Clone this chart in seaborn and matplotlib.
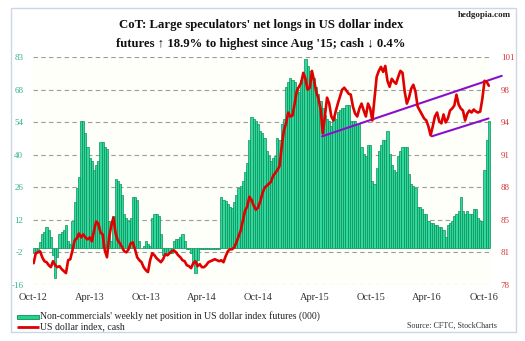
import numpy as np
import pandas as pd
import matplotlib
matplotlib.use("Agg")
import matplotlib.pyplot as plt
import matplotlib.dates as mdates
from matplotlib.lines import Line2D
from matplotlib.patches import Rectangle
from matplotlib.ticker import FixedLocator, FixedFormatter
import seaborn as sns

# ---------------- data ----------------
title_line1 = "CoT: Large speculators' net longs in US dollar index"
title_line2 = "futures \u2191 18.9% to highest since Aug '15; cash \u2193 0.4%"
brand = "hedgopia.com"
source_text = "Source: CFTC, StockCharts"
legend_bars = "Non-commercials' weekly net position in US dollar index futures (000)"
legend_line = "US dollar index, cash"

start_date = "2012-10-02"  # first weekly observation

net_longs = [
    -2, -2, -1, 2.5, 6, 7, 9, 8, 5, -3,
    -13, -4, 6, 7, 8, 10, 3, 2, 12, 20,
    26, 31, 55, 55, 50, 44, 39, 38, 34, 36,
    38, 46, 46, 44, 43, 12, 3, 14, 30, 29,
    28, 23, 15, 13, 12, 13, 22, 22, 21, 3,
    0, 1, 3, 2, 1, 13, 15, 15, 14, 6,
    -3, -2, -3, -2, -2, 3, 4, 4, 5, 6,
    3, -0.5, -0.5, -2, -6, -11, -5, -0.5, -0.5, -0.5,
    -0.5, -0.5, -0.5, -0.5, -0.5, -0.5, -0.5, 22, 21, 20.5,
    19, 18, 17.6, 20, 23, 26, 27, 29, 33, 37,
    47, 57, 56, 55, 54, 51, 50, 48, 42, 40,
    38, 39, 40, 48, 47, 54, 56, 70, 72, 74,
    73, 72, 70, 68, 73, 76, 82, 79, 77, 75,
    74, 70, 67, 64, 61, 58, 56, 55, 53, 57,
    56, 59, 60, 61, 61, 62, 62, 55, 55, 55,
    54, 54, 44, 41, 40, 45, 45, 29, 28, 35,
    42, 45, 47, 47, 51, 41, 36, 34, 33, 40,
    42, 44, 44, 44, 32, 28, 27, 26, 18, 18,
    17, 15, 15, 12, 11, 11, 10, 10, 9, 9,
    8, 5, 10, 11, 12, 14, 15, 16, 22, 16,
    15, 16, 15, 15, 17, 17, 13, 12, 12, 34,
    47, 55,
]

dollar_index = [
    80.2, 81.2, 81.3, 81.4, 80.8, 80.4, 80.3, 80.0, 79.8, 80.4,
    80.0, 79.8, 79.9, 79.6, 79.4, 79.2, 80.5, 80.6, 81.5, 82.5,
    82.7, 83.2, 82.8, 83.1, 82.8, 82.6, 82.8, 82.4, 83.5, 84.4,
    84.2, 83.3, 83.1, 81.5, 80.8, 82.8, 84.0, 84.8, 83.2, 82.5,
    82.2, 81.8, 81.4, 81.3, 81.6, 82.2, 82.3, 81.6, 80.8, 80.5,
    80.3, 79.8, 79.5, 79.3, 80.5, 81.2, 81.0, 80.7, 80.5, 80.3,
    80.6, 81.1, 81.0, 81.2, 81.4, 81.5, 81.3, 81.0, 80.8, 80.5,
    80.4, 80.0, 79.9, 79.7, 80.2, 80.4, 79.9, 80.1, 79.8, 79.8,
    80.0, 80.3, 80.4, 80.5, 80.6, 80.5, 80.4, 80.5, 80.3, 80.9,
    81.4, 81.6, 81.6, 81.8, 82.3, 82.9, 83.5, 84.5, 85.5, 85.9,
    86.9, 86.6, 86.0, 85.6, 85.8, 86.4, 87.2, 87.8, 88.0, 88.2,
    88.4, 89.0, 89.3, 89.6, 90.0, 92.0, 93.6, 94.3, 95.4, 95.0,
    95.1, 96.3, 97.6, 98.0, 98.4, 99.4, 98.8, 97.7, 97.9, 99.6,
    98.6, 97.5, 96.8, 95.8, 93.3, 95.0, 96.9, 96.3, 95.0, 94.6,
    95.5, 96.3, 97.0, 97.7, 97.9, 97.6, 97.3, 97.2, 96.0, 95.3,
    95.0, 95.8, 96.3, 95.6, 95.0, 96.3, 95.8, 94.6, 96.8, 99.0,
    99.6, 100.0, 99.5, 100.1, 98.6, 98.0, 98.8, 98.5, 98.3, 99.0,
    99.6, 99.4, 97.5, 96.3, 96.9, 97.8, 98.2, 97.5, 96.0, 95.6,
    95.2, 94.8, 94.6, 94.0, 93.1, 94.0, 95.0, 95.4, 94.5, 94.3,
    95.2, 94.4, 94.8, 95.6, 95.8, 96.1, 97.2, 96.2, 95.8, 95.6,
    94.6, 95.3, 95.6, 95.4, 95.7, 95.5, 95.4, 95.5, 96.8, 98.6,
    98.5, 98.1,
]

channel_upper_dates = ["2015-04-26", "2016-11-29"]
channel_upper_values = [93.0, 99.1]
channel_lower_dates = ["2016-04-16", "2016-10-17"]
channel_lower_values = [93.0, 94.8]

xtick_dates = ["2012-10-01", "2013-04-01", "2013-10-01", "2014-04-01", "2014-10-01",
               "2015-04-01", "2015-10-01", "2016-04-01", "2016-10-01"]
xtick_labels = ["Oct-12", "Apr-13", "Oct-13", "Apr-14", "Oct-14",
                "Apr-15", "Oct-15", "Apr-16", "Oct-16"]
left_tick_labels = ["-16", "-2", "12", "26", "40", "54", "68", "83"]
right_tick_labels = ["78", "81", "85", "88", "91", "94", "98", "101"]
left_range = (-16, 83)
right_range = (78, 101)

# ---------------- style ----------------
sns.set_style("white")
plt.rcParams["font.family"] = ["Liberation Serif", "DejaVu Serif"]

W, H = 525, 341
fig = plt.figure(figsize=(W / 100, H / 100), dpi=100)
fig.patch.set_facecolor("white")

def fx(px):
    return px / W

def fy(py):
    return 1 - py / H

ax = fig.add_axes([fx(33), fy(285), fx(491) - fx(33), fy(57) - fy(285)])
ax.set_facecolor("#fffffa")

dates = pd.date_range(start_date, periods=len(net_longs), freq="7D")
df = pd.DataFrame({
    "x": mdates.date2num(dates),
    "net": net_longs,
    "usd": dollar_index,
})

sns.barplot(data=df, x="x", y="net", native_scale=True, ax=ax,
            color="#30d8a0", saturation=1, width=1.0,
            edgecolor="#0a9056", linewidth=0.5, errorbar=None, zorder=2)

ax.set_xlim(mdates.date2num(pd.Timestamp("2012-09-30")),
            mdates.date2num(pd.Timestamp("2016-10-25")))
ax.set_ylim(*left_range)
lt = np.linspace(left_range[0], left_range[1], len(left_tick_labels))
ax.yaxis.set_major_locator(FixedLocator(lt))
ax.yaxis.set_major_formatter(FixedFormatter(left_tick_labels))
ax.yaxis.grid(True, color="#9c9c9c", linestyle=(0, (4, 3)), linewidth=0.8, zorder=1)
ax.set_axisbelow(True)
xt = mdates.date2num(pd.to_datetime(xtick_dates))
ax.xaxis.set_major_locator(FixedLocator(xt))
ax.xaxis.set_major_formatter(FixedFormatter(xtick_labels))
ax.tick_params(axis="x", length=0, pad=6, labelsize=7.5, labelcolor="#333333")
ax.tick_params(axis="y", length=0, pad=7, labelsize=6.5, labelcolor="#2db585")
ax.set_xlabel("")
ax.set_ylabel("")
for s in ax.spines.values():
    s.set_visible(False)

ax2 = ax.twinx()
sns.lineplot(data=df, x="x", y="usd", ax=ax2, color="#e00000", linewidth=1.9,
             legend=False, zorder=4)
up = pd.DataFrame({"x": mdates.date2num(pd.to_datetime(channel_upper_dates)),
                   "v": channel_upper_values})
lo = pd.DataFrame({"x": mdates.date2num(pd.to_datetime(channel_lower_dates)),
                   "v": channel_lower_values})
sns.lineplot(data=up, x="x", y="v", ax=ax2, color="#8a10c8", linewidth=1.5,
             legend=False, zorder=3, clip_on=False)
sns.lineplot(data=lo, x="x", y="v", ax=ax2, color="#8a10c8", linewidth=1.5,
             legend=False, zorder=3, clip_on=False)
ax2.set_ylim(*right_range)
rt = np.linspace(right_range[0], right_range[1], len(right_tick_labels))
ax2.yaxis.set_major_locator(FixedLocator(rt))
ax2.yaxis.set_major_formatter(FixedFormatter(right_tick_labels))
ax2.tick_params(axis="y", length=0, pad=7, labelsize=6.5, labelcolor="#d23a3a")
ax2.set_xlim(ax.get_xlim())
ax2.set_xlabel("")
ax2.set_ylabel("")
ax2.grid(False)
for s in ax2.spines.values():
    s.set_visible(False)

# ---------------- text ----------------
fig.text(fx(261), fy(25), title_line1, ha="center", va="center",
         fontsize=9.2, fontweight="bold", color="#111111")
fig.text(fx(261), fy(44), title_line2, ha="center", va="center",
         fontsize=9.2, fontweight="bold", color="#111111")
fig.text(fx(511), fy(15), brand, ha="right", va="center",
         fontsize=6.5, fontweight="bold", color="#222222")

# legend
fig.add_artist(Rectangle((fx(17), fy(319)), fx(39) - fx(17), fy(315) - fy(319),
                         transform=fig.transFigure, facecolor="#22d488",
                         edgecolor="#0a9056", linewidth=0.6))
fig.add_artist(Line2D([fx(17), fx(39)], [fy(327), fy(327)], transform=fig.transFigure,
                      color="#dd0000", linewidth=2, solid_capstyle="butt"))
fig.text(fx(40), fy(316.5), legend_bars, ha="left", va="center", fontsize=7, color="#222222")
fig.text(fx(40), fy(327), legend_line, ha="left", va="center", fontsize=7, color="#222222")
fig.text(fx(497), fy(326), source_text, ha="right", va="center", fontsize=5.8, color="#333333")

# border
fig.add_artist(Rectangle((fx(11), fy(332)), fx(516) - fx(11), fy(8) - fy(332),
                         transform=fig.transFigure, fill=False,
                         edgecolor="#cdd6e6", linewidth=1))

fig.savefig("out.png", dpi=100, facecolor="white")
